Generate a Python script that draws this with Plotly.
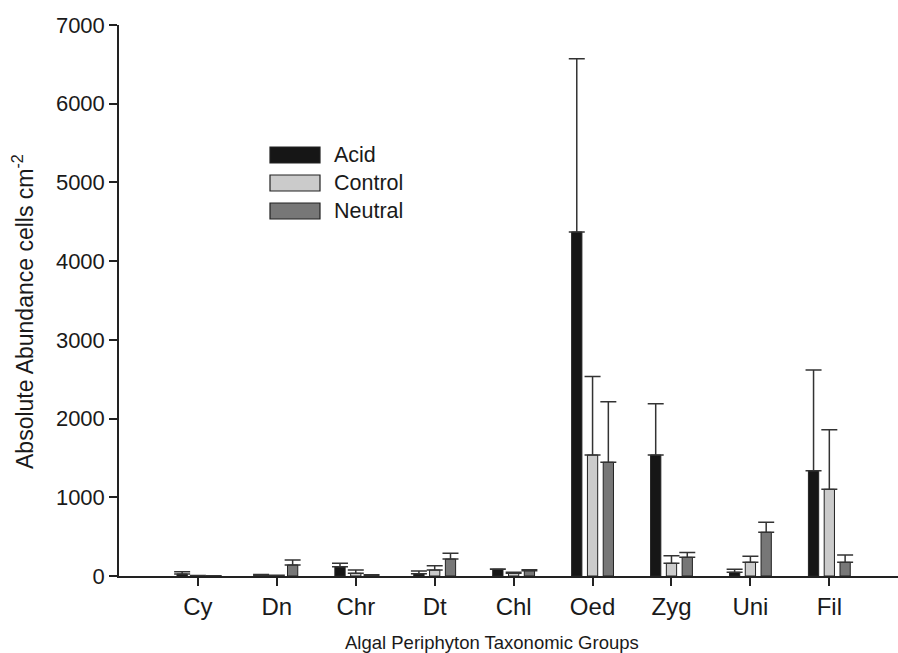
import plotly.graph_objects as go

categories = ["Cy", "Dn", "Chr", "Dt", "Chl", "Oed", "Zyg", "Uni", "Fil"]
series_names = ["Acid", "Control", "Neutral"]
acid = [25, 10, 118, 28, 85, 4370, 1537, 47, 1338]
acid_err = [30, 10, 45, 37, 5, 2200, 650, 38, 1280]
control = [3, 5, 34, 76, 34, 1537, 161, 175, 1101]
control_err = [3, 3, 42, 55, 13, 996, 97, 75, 758]
neutral = [2, 140, 10, 215, 68, 1445, 237, 555, 174]
neutral_err = [2, 62, 5, 75, 10, 770, 60, 127, 93]
colors = ["#161616", "#cbcbcb", "#777777"]
y_ticks = [0, 1000, 2000, 3000, 4000, 5000, 6000, 7000]

FONT = "Liberation Sans, Arial, sans-serif"
W, H = 898, 653
L, R, T, B = 119, 0, 25, 77
pw, ph = W - L - R, H - T - B

def px_x(p):
    return (p - L) / pw

def px_y(p):
    return (H - B - p) / ph

fig = go.Figure()
for name, vals, errs, col in zip(series_names, [acid, control, neutral],
                                 [acid_err, control_err, neutral_err], colors):
    fig.add_trace(go.Bar(
        x=list(range(len(categories))), y=vals, name=name,
        marker=dict(color=col, line=dict(color="#222222", width=1)),
        error_y=dict(type="data", array=errs, symmetric=False,
                     arrayminus=[0] * len(errs), color="#333333",
                     thickness=1.5, width=8),
        showlegend=False,
    ))

fig.update_layout(
    width=W, height=H,
    margin=dict(l=L, r=R, t=T, b=B, pad=0),
    paper_bgcolor="white", plot_bgcolor="white",
    barmode="group", bargap=0.4, bargroupgap=0.35,
    font=dict(family=FONT, color="#1a1a1a"),
    xaxis=dict(
        range=[-1, 8.87], tickmode="array",
        tickvals=list(range(len(categories))), ticktext=categories,
        showline=True, linecolor="#222222", linewidth=1.5,
        ticks="outside", ticklen=8, tickwidth=1.5, tickcolor="#222222",
        tickfont=dict(size=24, family=FONT), showgrid=False, zeroline=False,
    ),
    yaxis=dict(
        range=[0, 7000], tickmode="array", tickvals=y_ticks,
        showline=True, linecolor="#222222", linewidth=1.5,
        ticks="outside", ticklen=8, tickwidth=1.5, tickcolor="#222222",
        tickfont=dict(size=22, family=FONT), showgrid=False, zeroline=False,
    ),
)

# x-axis title
fig.add_annotation(text="Algal Periphyton Taxonomic Groups", xref="paper", yref="paper",
                   x=px_x(492), y=px_y(642), xanchor="center", yanchor="middle",
                   showarrow=False, font=dict(size=18.5, family=FONT, color="#1a1a1a"))
# y-axis title
fig.add_annotation(text="Absolute Abundance cells cm<sup>-2</sup>", xref="paper", yref="paper",
                   x=px_x(23), y=px_y(312), xanchor="center", yanchor="middle",
                   textangle=-90, showarrow=False,
                   font=dict(size=23, family=FONT, color="#1a1a1a"))

# legend
legend_rows = [(147, 163), (175, 191), (203, 219)]
for (y0, y1), name, col in zip(legend_rows, series_names, colors):
    fig.add_shape(type="rect", xref="paper", yref="paper",
                  x0=px_x(270), x1=px_x(320), y0=px_y(y1), y1=px_y(y0),
                  fillcolor=col, line=dict(color="#222222", width=1.2))
    fig.add_annotation(text=name, xref="paper", yref="paper",
                       x=px_x(332), y=px_y((y0 + y1) / 2), xanchor="left", yanchor="middle",
                       showarrow=False, font=dict(size=21.5, family=FONT, color="#1a1a1a"))

fig.write_html("out.html")
